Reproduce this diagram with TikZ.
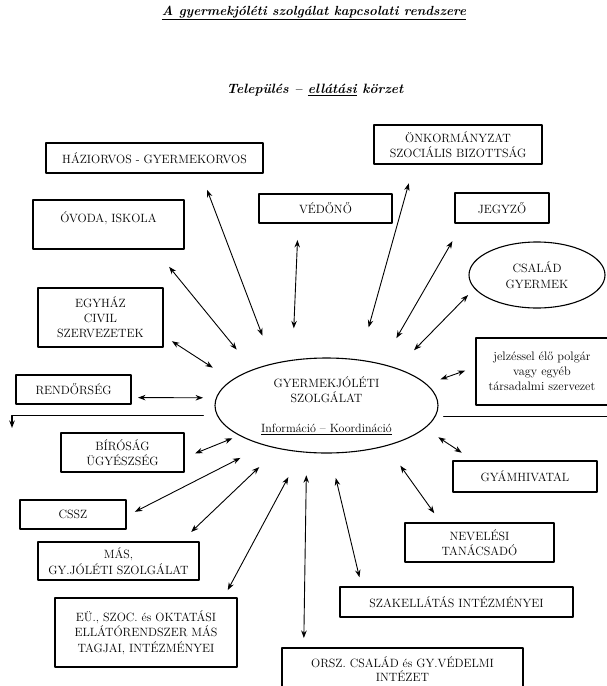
\documentclass[tikz,border=0pt]{standalone}
\usepackage{fontspec}
\usepackage{tikz}
\usetikzlibrary{arrows.meta}
\usetikzlibrary{shapes.geometric}
\begin{document}
\begin{tikzpicture}[line cap=round,line join=round,>={Stealth[length=7.5pt,width=5.5pt]},x=1pt,y=-1pt,
  box/.style={draw,line width=1.1pt,inner sep=1pt,outer sep=0pt,align=center,font=\fontsize{12}{15.5}\selectfont},
  oval/.style={box,ellipse},
  link/.style={<->,line width=0.9pt}]
\useasboundingbox (0,0) rectangle (606,686);
\node[font=\fontsize{13.2}{15}\selectfont\bfseries\itshape] (title) at (314,13) {\underline{A gyermekjóléti szolgálat kapcsolati rendszere}};
\node[font=\fontsize{13.5}{15}\selectfont\bfseries\itshape] (telep) at (315,90) {Település -- \underline{ellátási} körzet};
\node[box,minimum width=217pt,minimum height=30pt] (hazi) at (154.5,158) {HÁZIORVOS - GYERMEKORVOS};
\node[box,minimum width=151pt,minimum height=49pt] (ovoda) at (108.5,224.5) {ÓVODA, ISKOLA\\\mbox{}};
\node[box,minimum width=133pt,minimum height=29pt] (vedono) at (325.5,208.5) {VÉDŐNŐ};
\node[box,minimum width=168pt,minimum height=39pt] (onkor) at (458,144.5) {ÖNKORMÁNYZAT\\SZOCIÁLIS BIZOTTSÁG};
\node[box,minimum width=94pt,minimum height=30pt] (jegyzo) at (502,208) {JEGYZŐ};
\node[oval,minimum width=136pt,minimum height=66pt] (csalad) at (537,275) {CSALÁD\\GYERMEK};
\node[box,minimum width=125pt,minimum height=59pt,font=\fontsize{12}{15}\selectfont] (egyhaz) at (100.5,317.5) {EGYHÁZ\\CIVIL\\SZERVEZETEK};
\node[box,minimum width=115pt,minimum height=29pt] (rendor) at (73.5,389.5) {RENDŐRSÉG};
\node[oval,minimum width=223pt,minimum height=95pt] (gysz) at (326.5,405.5) {GYERMEKJÓLÉTI\\SZOLGÁLAT\\[14pt]\underline{Információ -- Koordináció}};
\node[box,minimum width=132pt,minimum height=67pt,font=\fontsize{12.3}{14.8}\selectfont] (jelzes) at (542,371.5) {jelzéssel élő polgár\\vagy egyéb\\társadalmi szervezet};
\node[box,minimum width=123pt,minimum height=39pt] (birosag) at (122.5,452.5) {BÍRÓSÁG\\ÜGYÉSZSÉG};
\node[box,minimum width=144pt,minimum height=31pt] (gyam) at (525,476.5) {GYÁMHIVATAL};
\node[box,minimum width=106pt,minimum height=29pt] (cssz) at (73,514.5) {CSSZ};
\node[box,minimum width=161pt,minimum height=38pt] (mas) at (118.5,561) {MÁS,\\GY.JÓLÉTI SZOLGÁLAT};
\node[box,minimum width=182pt,minimum height=69pt] (eu) at (146,632.5) {EÜ., SZOC. és OKTATÁSI\\ELLÁTÓRENDSZER MÁS\\TAGJAI, INTÉZMÉNYEI};
\node[box,minimum width=149pt,minimum height=39pt] (nevel) at (479.5,542.5) {NEVELÉSI\\TANÁCSADÓ};
\node[box,minimum width=233pt,minimum height=30pt] (szak) at (456.5,602) {SZAKELLÁTÁS INTÉZMÉNYEI};
\node[box,minimum width=241pt,minimum height=42pt,font=\fontsize{12}{14.5}\selectfont] (orsz) at (402.5,669) {ORSZ. CSALÁD és GY.VÉDELMI\\INTÉZET};
\coordinate (leftend) at (12,428);
\coordinate (rightend) at (608,418);
\draw [link,shorten <=18pt,shorten >=30pt] (hazi.-18.4) -- (gysz.142.4);
\draw [link,shorten <=23pt,shorten >=26pt] (ovoda.-28.6) -- (gysz.154.9);
\draw [link,shorten <=17pt,shorten >=32pt] (vedono.-152.4) -- (gysz.127.8);
\draw [link,shorten <=20pt,shorten >=34pt] (onkor.-156.4) -- (gysz.54.6);
\draw [link,shorten <=21pt,shorten >=30pt] (jegyzo.-159.3) -- (gysz.37.3);
\draw [link,shorten <=9.5pt,shorten >=25.5pt] (csalad.-168) -- (gysz.28.7);
\draw [link,shorten <=10.6pt,shorten >=23pt] (egyhaz.-16.7) -- (gysz.165);
\draw [link,shorten <=7pt,shorten >=13.4pt] (rendor.-8.4) -- (gysz.176.1);
\draw [link,shorten <=11.5pt,shorten >=15pt] (jelzes.176.5) -- (gysz.12.4);
\draw [link,shorten <=12pt,shorten >=8pt] (birosag.-5.9) -- (gysz.-161.6);
\draw [link,shorten <=10pt,shorten >=28pt] (cssz.-2.4) -- (gysz.-147.7);
\draw [link,shorten <=14.5pt,shorten >=27pt] (mas.17.3) -- (gysz.-138.8);
\draw [link,shorten <=9pt,shorten >=28.7pt] (eu.24.2) -- (gysz.-118.3);
\draw [link,shorten <=10pt,shorten >=23pt] (orsz.168.2) -- (gysz.-113.1);
\draw [link,shorten <=10pt,shorten >=25.7pt] (szak.171.1) -- (gysz.-86.7);
\draw [link,shorten <=12pt,shorten >=24.6pt] (nevel.153.7) -- (gysz.-34.2);
\draw [link,shorten <=15pt,shorten >=16.5pt] (gyam.163.2) -- (gysz.-13.9);
\draw [->,line width=1.1pt,shorten <=14pt] (gysz.-175) -| (leftend);
\draw [line width=1.1pt,shorten <=9pt] (gysz.-6.5) -- (gysz.-6.5 -| rightend);
\end{tikzpicture}
\end{document}
